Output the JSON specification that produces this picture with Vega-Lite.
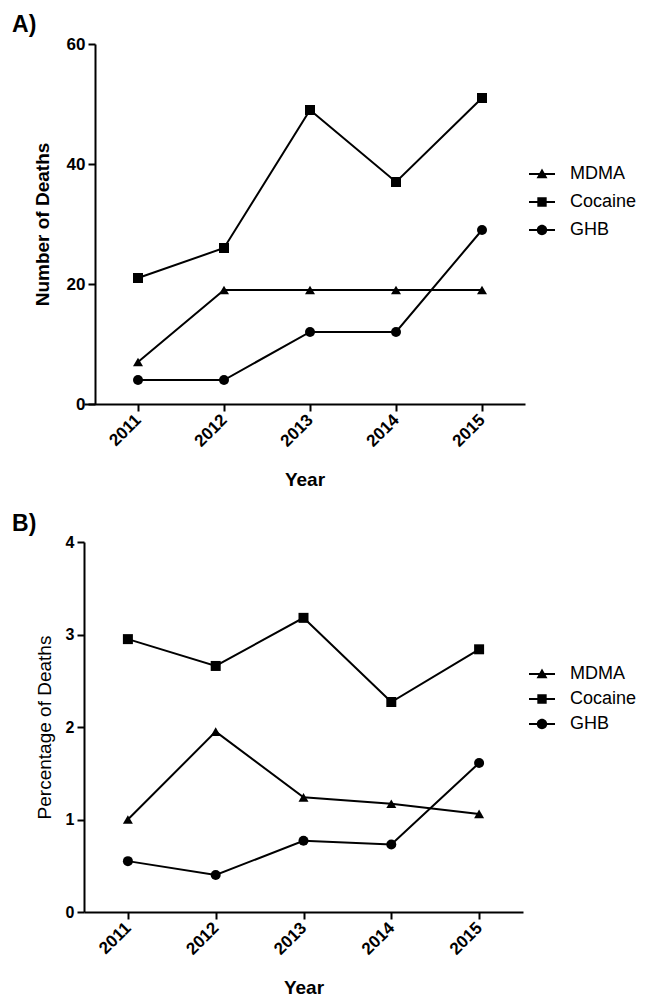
{
  "$schema": "https://vega.github.io/schema/vega-lite/v6.json",
  "background": "white",
  "padding": {"left": 12, "top": 14, "right": 0, "bottom": 0},
  "config": {
    "font": "Liberation Sans",
    "view": {"stroke": null},
    "axis": {"domainColor": "black", "domainWidth": 2, "tickColor": "black", "tickWidth": 2, "tickSize": 7, "labelColor": "black", "titleColor": "black", "grid": false, "labelFont": "Liberation Sans", "titleFont": "Liberation Sans", "labelFontWeight": "bold", "titleFontWeight": "bold", "labelFlush": false, "labelOverlap": false},
    "legend": {"symbolFillColor": "black", "symbolStrokeColor": "black", "symbolStrokeWidth": 2, "symbolOpacity": 1, "labelFont": "Liberation Sans", "labelFontSize": 18, "labelColor": "black"},
    "title": {"font": "Liberation Sans", "color": "black", "fontSize": 23, "fontWeight": "bold", "anchor": "start", "frame": "bounds"}
  },
  "datasets": {
    "deaths": [
      {"year": 2011, "drug": "MDMA", "value": 7},
      {"year": 2012, "drug": "MDMA", "value": 19},
      {"year": 2013, "drug": "MDMA", "value": 19},
      {"year": 2014, "drug": "MDMA", "value": 19},
      {"year": 2015, "drug": "MDMA", "value": 19},
      {"year": 2011, "drug": "Cocaine", "value": 21},
      {"year": 2012, "drug": "Cocaine", "value": 26},
      {"year": 2013, "drug": "Cocaine", "value": 49},
      {"year": 2014, "drug": "Cocaine", "value": 37},
      {"year": 2015, "drug": "Cocaine", "value": 51},
      {"year": 2011, "drug": "GHB", "value": 4},
      {"year": 2012, "drug": "GHB", "value": 4},
      {"year": 2013, "drug": "GHB", "value": 12},
      {"year": 2014, "drug": "GHB", "value": 12},
      {"year": 2015, "drug": "GHB", "value": 29}
    ],
    "pct": [
      {"year": 2011, "drug": "MDMA", "value": 1.0},
      {"year": 2012, "drug": "MDMA", "value": 1.95},
      {"year": 2013, "drug": "MDMA", "value": 1.24},
      {"year": 2014, "drug": "MDMA", "value": 1.17},
      {"year": 2015, "drug": "MDMA", "value": 1.06},
      {"year": 2011, "drug": "Cocaine", "value": 2.95},
      {"year": 2012, "drug": "Cocaine", "value": 2.66},
      {"year": 2013, "drug": "Cocaine", "value": 3.18},
      {"year": 2014, "drug": "Cocaine", "value": 2.27},
      {"year": 2015, "drug": "Cocaine", "value": 2.84},
      {"year": 2011, "drug": "GHB", "value": 0.55},
      {"year": 2012, "drug": "GHB", "value": 0.40},
      {"year": 2013, "drug": "GHB", "value": 0.77},
      {"year": 2014, "drug": "GHB", "value": 0.73},
      {"year": 2015, "drug": "GHB", "value": 1.61}
    ]
  },
  "spacing": 23,
  "resolve": {"scale": {"shape": "independent"}, "legend": {"shape": "independent"}},
  "vconcat": [
    {
      "title": {"text": "A)", "dx": -21, "offset": -2},
      "width": 441,
      "height": 360,
      "data": {"name": "deaths"},
      "encoding": {
        "x": {"field": "year", "type": "quantitative", "scale": {"domain": [2010.372, 2015.5], "nice": false, "zero": false},
          "axis": {"title": "Year", "values": [2011, 2012, 2013, 2014, 2015], "format": "d", "labelAngle": -45, "labelAlign": "right", "labelBaseline": "middle", "labelFontSize": 17, "titleFontSize": 19, "labelPadding": 6, "titlePadding": 21}},
        "y": {"field": "value", "type": "quantitative", "scale": {"domain": [0, 60]},
          "axis": {"title": "Number of Deaths", "values": [0, 20, 40, 60], "offset": -11, "labelFontSize": 17, "titleFontSize": 19, "labelPadding": 3, "titlePadding": 14}}
      },
      "resolve": {"scale": {"shape": "independent"}, "legend": {"shape": "independent"}},
      "layer": [
        {"mark": {"type": "line", "color": "black", "strokeWidth": 2}, "encoding": {"detail": {"field": "drug"}}},
        {"mark": {"type": "point", "filled": true, "color": "black", "opacity": 1, "size": 100},
          "encoding": {"shape": {"field": "drug", "type": "nominal",
            "scale": {"domain": ["MDMA", "Cocaine", "GHB"], "range": ["triangle-up", "square", "circle"]}, "legend": null}}},
        {"transform": [{"filter": "false"}],
          "mark": {"type": "point", "filled": true, "color": "black", "opacity": 1},
          "encoding": {"shape": {"field": "drug", "type": "nominal",
            "scale": {"domain": ["MDMA", "Cocaine", "GHB"], "range": ["M-1,-0.08H1V0.08H-1ZM0,-0.42L0.42,0.32L-0.42,0.32Z", "M-1,-0.08H1V0.08H-1ZM-0.36,-0.36H0.36V0.36H-0.36Z", "M-1,-0.08H1V0.08H-1ZM0.4,0A0.4,0.4 0 1,1 -0.4,0A0.4,0.4 0 1,1 0.4,0Z"]},
            "legend": {"title": null, "orient": "none", "legendX": 444, "legendY": 116, "symbolSize": 676, "labelOffset": 14, "rowPadding": 5}}}}
      ]
    },
    {
      "title": {"text": "B)", "dx": -23, "offset": -2},
      "width": 439,
      "height": 370,
      "data": {"name": "pct"},
      "encoding": {
        "x": {"field": "year", "type": "ordinal", "scale": {"type": "point", "padding": 0.5},
          "axis": {"title": "Year", "labelAngle": -45, "labelAlign": "right", "labelBaseline": "middle", "labelFontSize": 17, "titleFontSize": 19, "labelPadding": 6, "titlePadding": 21}},
        "y": {"field": "value", "type": "quantitative", "scale": {"domain": [0, 4]},
          "axis": {"title": "Percentage of Deaths", "values": [0, 1, 2, 3, 4], "labelFontSize": 16, "titleFontSize": 19, "titleFontWeight": "normal", "labelPadding": 3, "titlePadding": 11}}
      },
      "resolve": {"scale": {"shape": "independent"}, "legend": {"shape": "independent"}},
      "layer": [
        {"mark": {"type": "line", "color": "black", "strokeWidth": 2}, "encoding": {"detail": {"field": "drug"}}},
        {"mark": {"type": "point", "filled": true, "color": "black", "opacity": 1, "size": 100},
          "encoding": {"shape": {"field": "drug", "type": "nominal",
            "scale": {"domain": ["MDMA", "Cocaine", "GHB"], "range": ["triangle-up", "square", "circle"]}, "legend": null}}},
        {"transform": [{"filter": "false"}],
          "mark": {"type": "point", "filled": true, "color": "black", "opacity": 1},
          "encoding": {"shape": {"field": "drug", "type": "nominal",
            "scale": {"domain": ["MDMA", "Cocaine", "GHB"], "range": ["M-1,-0.08H1V0.08H-1ZM0,-0.42L0.42,0.32L-0.42,0.32Z", "M-1,-0.08H1V0.08H-1ZM-0.36,-0.36H0.36V0.36H-0.36Z", "M-1,-0.08H1V0.08H-1ZM0.4,0A0.4,0.4 0 1,1 -0.4,0A0.4,0.4 0 1,1 0.4,0Z"]},
            "legend": {"title": null, "orient": "none", "legendX": 444, "legendY": 118, "symbolSize": 676, "labelOffset": 14, "rowPadding": 2}}}}
      ]
    }
  ]
}
